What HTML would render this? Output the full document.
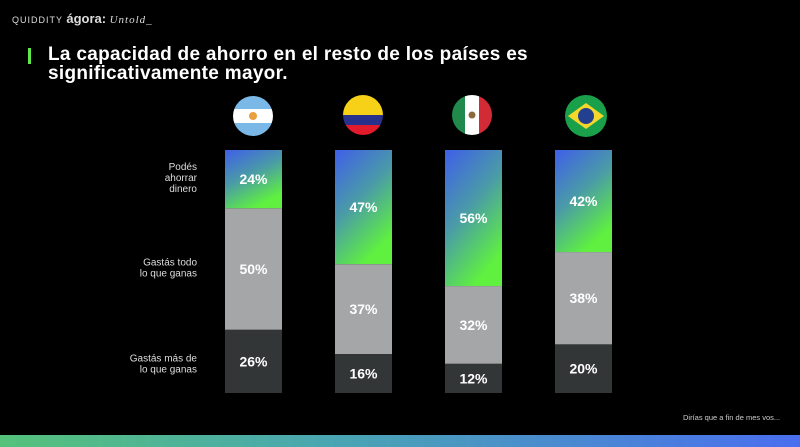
<!DOCTYPE html>
<html><head><meta charset="utf-8"><style>
body{margin:0;background:#000;width:800px;height:447px;overflow:hidden;position:relative;font-family:"Liberation Sans",sans-serif;color:#fff}
.abs{position:absolute}
</style></head><body>
<div class="abs" style="left:12px;top:11px;font-size:9px;letter-spacing:1px;color:#ddd">QUIDDITY <b style="font-size:13px;letter-spacing:0">ágora:</b> <i style="font-family:'Liberation Serif',serif;font-size:11px">Untold_</i></div>
<div class="abs" style="left:28px;top:48px;width:3px;height:16px;background:#5fe84a"></div>
<div class="abs" style="left:48px;top:45px;font-size:19px;font-weight:bold;line-height:19px;letter-spacing:0.3px">La capacidad de ahorro en el resto de los países es<br>significativamente mayor.</div>
<div class="abs" style="left:683px;top:413px;font-size:7.5px;color:#ccc">Dirías que a fin de mes vos...</div>
<div class="abs" style="left:0;top:435px;width:800px;height:12px;background:linear-gradient(90deg,#55c27a,#4aa7b0 40%,#4a6ef0)"></div>
<svg class="abs" style="left:0;top:0" width="800" height="447" id="chart">
<defs><linearGradient id="g" x1="0" y1="0" x2="0.5" y2="1"><stop offset="0" stop-color="#3f5fe8"/><stop offset="0.5" stop-color="#4a9aa8"/><stop offset="1" stop-color="#5ff040"/></linearGradient>
<clipPath id="c1"><circle cx="253" cy="116" r="20"/></clipPath>
<clipPath id="c2"><circle cx="363" cy="115" r="20"/></clipPath>
<clipPath id="c3"><circle cx="472" cy="115" r="20"/></clipPath>
<clipPath id="c4"><circle cx="586" cy="116" r="21"/></clipPath></defs>
<g clip-path="url(#c1)"><rect x="230" y="95" width="46" height="14" fill="#7ab8e8"/><rect x="230" y="109" width="46" height="14" fill="#fff"/><rect x="230" y="123" width="46" height="14" fill="#7ab8e8"/><circle cx="253" cy="116" r="4" fill="#e8a040"/></g>
<g clip-path="url(#c2)"><rect x="340" y="94" width="46" height="21" fill="#f7d117"/><rect x="340" y="115" width="46" height="10" fill="#27318b"/><rect x="340" y="125" width="46" height="12" fill="#e11b2c"/></g>
<g clip-path="url(#c3)"><rect x="450" y="94" width="15" height="42" fill="#1f8a4c"/><rect x="465" y="94" width="14" height="42" fill="#fff"/><rect x="479" y="94" width="15" height="42" fill="#d22b35"/><circle cx="472" cy="115" r="3.5" fill="#8a6a3a"/></g>
<g clip-path="url(#c4)"><rect x="564" y="94" width="44" height="44" fill="#1aa04a"/><polygon points="586,103 604,116 586,129 568,116" fill="#f5d62a"/><circle cx="586" cy="116" r="8" fill="#233f8f"/></g>
</svg>
<script>
const countries=["Argentina","Colombia","México","Brasil"];
const ahorrar=[24,47,56,42];
const todo=[50,37,32,38];
const mas=[26,16,12,20];
const catLabels=[["Podés","ahorrar","dinero"],["Gastás todo","lo que ganas"],["Gastás más de","lo que ganas"]];
const svg=document.getElementById('chart');const NS='http://www.w3.org/2000/svg';
const top0=150,H=243,bw=57;
const xs=i=>225+i*110;
const y=p=>top0+p/100*H;
function mk(t,a){const e=document.createElementNS(NS,t);for(const k in a)e.setAttribute(k,a[k]);svg.appendChild(e);return e;}
countries.forEach((c,i)=>{
 const segs=[[ahorrar[i],'url(#g)','ahorrar'],[todo[i],'#a4a6a7','todo'],[mas[i],'#333637','mas']];
 let acc=0;
 segs.forEach(s=>{
  const r=mk('rect',{x:xs(i),y:y(acc),width:bw,height:y(acc+s[0])-y(acc),fill:s[1]});
  
  
  const t=mk('text',{x:xs(i)+bw/2,y:(y(acc)+y(acc+s[0]))/2+5,'text-anchor':'middle','font-size':14,'font-weight':'bold',fill:'#fff','font-family':'Liberation Sans, sans-serif'});
  t.textContent=s[0]+'%';
  
  
  acc+=s[0];
 });
});
const labelY=[178,268,364];
catLabels.forEach((ls,j)=>{
 ls.forEach((l,k)=>{
  const t=mk('text',{x:197,y:labelY[j]+(k-(ls.length-1)/2)*11+3,'text-anchor':'end','font-size':10,fill:'#ddd','font-family':'Liberation Sans, sans-serif'});
  t.textContent=l;
  
  
 });
});
</script>
</body></html>
